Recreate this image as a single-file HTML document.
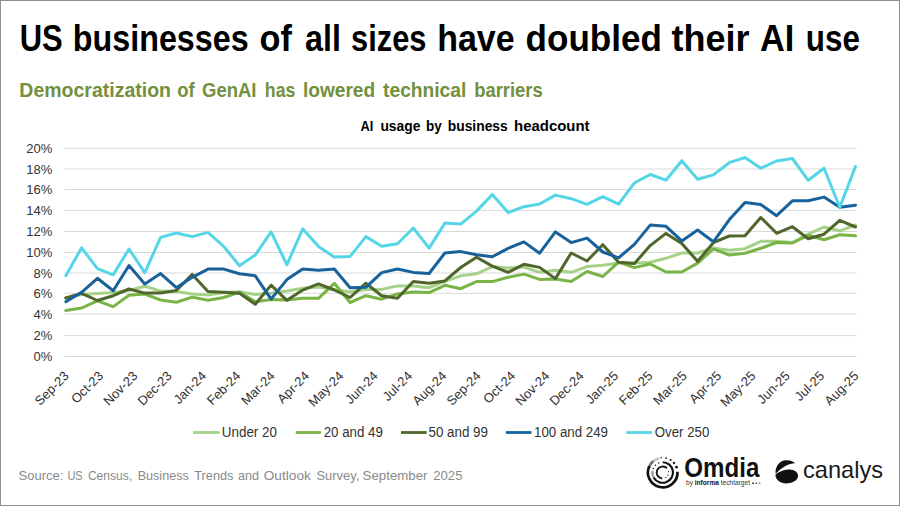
<!DOCTYPE html>
<html><head><meta charset="utf-8">
<style>
html,body{margin:0;padding:0;background:#fff;}
body{width:900px;height:506px;overflow:hidden;position:relative;}
svg{position:absolute;left:0;top:0;display:block;}
text{font-family:"Liberation Sans",sans-serif;}
</style></head>
<body>
<svg width="900" height="506" viewBox="0 0 900 506">
<rect x="0" y="0" width="900" height="506" fill="#fff"/>
<rect x="0.5" y="0.5" width="899" height="505" fill="none" stroke="#8f8f8f" stroke-width="1"/>
<text x="19.67" y="51.3" font-size="37.5" font-weight="bold" fill="#000" textLength="43.03" lengthAdjust="spacingAndGlyphs">US</text><text x="72.78" y="51.3" font-size="37.5" font-weight="bold" fill="#000" textLength="175.97" lengthAdjust="spacingAndGlyphs">businesses</text><text x="259.59" y="51.3" font-size="37.5" font-weight="bold" fill="#000" textLength="32.37" lengthAdjust="spacingAndGlyphs">of</text><text x="305.0" y="51.3" font-size="37.5" font-weight="bold" fill="#000" textLength="35.86" lengthAdjust="spacingAndGlyphs">all</text><text x="351.08" y="51.3" font-size="37.5" font-weight="bold" fill="#000" textLength="75.34" lengthAdjust="spacingAndGlyphs">sizes</text><text x="437.19" y="51.3" font-size="37.5" font-weight="bold" fill="#000" textLength="77.35" lengthAdjust="spacingAndGlyphs">have</text><text x="525.56" y="51.3" font-size="37.5" font-weight="bold" fill="#000" textLength="136.43" lengthAdjust="spacingAndGlyphs">doubled</text><text x="671.5" y="51.3" font-size="37.5" font-weight="bold" fill="#000" textLength="78.0" lengthAdjust="spacingAndGlyphs">their</text><text x="759.99" y="51.3" font-size="37.5" font-weight="bold" fill="#000" textLength="34.29" lengthAdjust="spacingAndGlyphs">AI</text><text x="805.86" y="51.3" font-size="37.5" font-weight="bold" fill="#000" textLength="54.06" lengthAdjust="spacingAndGlyphs">use</text>
<text x="19.3" y="97" font-size="20.1" font-weight="bold" fill="#73903c" textLength="151.72" lengthAdjust="spacingAndGlyphs">Democratization</text><text x="177.3" y="97" font-size="20.1" font-weight="bold" fill="#73903c" textLength="17.45" lengthAdjust="spacingAndGlyphs">of</text><text x="202.0" y="97" font-size="20.1" font-weight="bold" fill="#73903c" textLength="54.47" lengthAdjust="spacingAndGlyphs">GenAI</text><text x="264.8" y="97" font-size="20.1" font-weight="bold" fill="#73903c" textLength="30.55" lengthAdjust="spacingAndGlyphs">has</text><text x="302.9" y="97" font-size="20.1" font-weight="bold" fill="#73903c" textLength="72.24" lengthAdjust="spacingAndGlyphs">lowered</text><text x="383.1" y="97" font-size="20.1" font-weight="bold" fill="#73903c" textLength="83.2" lengthAdjust="spacingAndGlyphs">technical</text><text x="474.2" y="97" font-size="20.1" font-weight="bold" fill="#73903c" textLength="68.46" lengthAdjust="spacingAndGlyphs">barriers</text>
<text x="360.4" y="130.5" font-size="14.4" font-weight="bold" fill="#000" textLength="12.87" lengthAdjust="spacingAndGlyphs">AI</text><text x="380.4" y="130.5" font-size="14.4" font-weight="bold" fill="#000" textLength="40.11" lengthAdjust="spacingAndGlyphs">usage</text><text x="426.0" y="130.5" font-size="14.4" font-weight="bold" fill="#000" textLength="15.81" lengthAdjust="spacingAndGlyphs">by</text><text x="447.8" y="130.5" font-size="14.4" font-weight="bold" fill="#000" textLength="59.91" lengthAdjust="spacingAndGlyphs">business</text><text x="514.0" y="130.5" font-size="14.4" font-weight="bold" fill="#000" textLength="75.56" lengthAdjust="spacingAndGlyphs">headcount</text>
<g stroke="#d9d9d9" stroke-width="1"><line x1="64.5" y1="356.5" x2="856.5" y2="356.5"/><line x1="64.5" y1="335.6" x2="856.5" y2="335.6"/><line x1="64.5" y1="314.0" x2="856.5" y2="314.0"/><line x1="64.5" y1="293.3" x2="856.5" y2="293.3"/><line x1="64.5" y1="273.0" x2="856.5" y2="273.0"/><line x1="64.5" y1="252.5" x2="856.5" y2="252.5"/><line x1="64.5" y1="231.5" x2="856.5" y2="231.5"/><line x1="64.5" y1="210.4" x2="856.5" y2="210.4"/><line x1="64.5" y1="189.5" x2="856.5" y2="189.5"/><line x1="64.5" y1="169.0" x2="856.5" y2="169.0"/><line x1="64.5" y1="148.4" x2="856.5" y2="148.4"/></g>
<g font-size="13" fill="#333"><text x="52.3" y="361.1" text-anchor="end">0%</text><text x="52.3" y="340.2" text-anchor="end">2%</text><text x="52.3" y="318.6" text-anchor="end">4%</text><text x="52.3" y="297.9" text-anchor="end">6%</text><text x="52.3" y="277.6" text-anchor="end">8%</text><text x="52.3" y="257.1" text-anchor="end">10%</text><text x="52.3" y="236.1" text-anchor="end">12%</text><text x="52.3" y="215.0" text-anchor="end">14%</text><text x="52.3" y="194.1" text-anchor="end">16%</text><text x="52.3" y="173.6" text-anchor="end">18%</text><text x="52.3" y="153.0" text-anchor="end">20%</text></g>
<g font-size="13" fill="#333"><text transform="translate(63.0,370.0) rotate(-45)" x="0" y="9.5" text-anchor="end">Sep-23</text><text transform="translate(97.3,370.0) rotate(-45)" x="0" y="9.5" text-anchor="end">Oct-23</text><text transform="translate(131.7,370.0) rotate(-45)" x="0" y="9.5" text-anchor="end">Nov-23</text><text transform="translate(166.0,370.0) rotate(-45)" x="0" y="9.5" text-anchor="end">Dec-23</text><text transform="translate(200.3,370.0) rotate(-45)" x="0" y="9.5" text-anchor="end">Jan-24</text><text transform="translate(234.7,370.0) rotate(-45)" x="0" y="9.5" text-anchor="end">Feb-24</text><text transform="translate(269.0,370.0) rotate(-45)" x="0" y="9.5" text-anchor="end">Mar-24</text><text transform="translate(303.3,370.0) rotate(-45)" x="0" y="9.5" text-anchor="end">Apr-24</text><text transform="translate(337.7,370.0) rotate(-45)" x="0" y="9.5" text-anchor="end">May-24</text><text transform="translate(372.0,370.0) rotate(-45)" x="0" y="9.5" text-anchor="end">Jun-24</text><text transform="translate(406.3,370.0) rotate(-45)" x="0" y="9.5" text-anchor="end">Jul-24</text><text transform="translate(440.7,370.0) rotate(-45)" x="0" y="9.5" text-anchor="end">Aug-24</text><text transform="translate(475.0,370.0) rotate(-45)" x="0" y="9.5" text-anchor="end">Sep-24</text><text transform="translate(509.4,370.0) rotate(-45)" x="0" y="9.5" text-anchor="end">Oct-24</text><text transform="translate(543.7,370.0) rotate(-45)" x="0" y="9.5" text-anchor="end">Nov-24</text><text transform="translate(578.0,370.0) rotate(-45)" x="0" y="9.5" text-anchor="end">Dec-24</text><text transform="translate(612.4,370.0) rotate(-45)" x="0" y="9.5" text-anchor="end">Jan-25</text><text transform="translate(646.7,370.0) rotate(-45)" x="0" y="9.5" text-anchor="end">Feb-25</text><text transform="translate(681.0,370.0) rotate(-45)" x="0" y="9.5" text-anchor="end">Mar-25</text><text transform="translate(715.4,370.0) rotate(-45)" x="0" y="9.5" text-anchor="end">Apr-25</text><text transform="translate(749.7,370.0) rotate(-45)" x="0" y="9.5" text-anchor="end">May-25</text><text transform="translate(784.0,370.0) rotate(-45)" x="0" y="9.5" text-anchor="end">Jun-25</text><text transform="translate(818.4,370.0) rotate(-45)" x="0" y="9.5" text-anchor="end">Jul-25</text><text transform="translate(852.7,370.0) rotate(-45)" x="0" y="9.5" text-anchor="end">Aug-25</text></g>
<g fill="none" stroke-width="3" stroke-linejoin="round" stroke-linecap="round">
<polyline points="65.8,298.0 81.6,294.5 97.4,293.4 113.2,292.6 129.0,290.4 144.8,286.2 160.6,291.1 176.4,291.4 192.2,294.1 208.0,295.1 223.8,292.5 239.5,291.7 255.3,294.4 271.1,293.3 286.9,291.1 302.7,288.3 318.5,287.0 334.3,289.4 350.1,292.1 365.9,289.4 381.7,289.4 397.5,285.9 413.3,285.9 429.1,287.7 444.9,281.3 460.7,275.8 476.5,273.8 492.3,266.6 508.1,268.0 523.9,267.0 539.6,272.3 555.4,270.2 571.2,272.3 587.0,266.6 602.8,265.2 618.6,263.1 634.4,263.0 650.2,262.2 666.0,258.3 681.8,253.0 697.6,253.0 713.4,248.0 729.2,250.3 745.0,248.7 760.8,241.3 776.6,241.3 792.4,242.5 808.2,234.2 824.0,227.0 839.8,230.8 855.5,225.0" stroke="#a6d288"/>
<polyline points="65.8,310.5 81.6,308.0 97.4,300.8 113.2,306.6 129.0,295.3 144.8,294.0 160.6,300.0 176.4,302.2 192.2,297.1 208.0,300.3 223.8,297.5 239.5,292.2 255.3,301.7 271.1,299.4 286.9,300.0 302.7,298.3 318.5,298.3 334.3,283.3 350.1,302.5 365.9,295.7 381.7,299.2 397.5,293.9 413.3,292.1 429.1,292.6 444.9,285.3 460.7,288.7 476.5,281.6 492.3,281.6 508.1,277.3 523.9,274.1 539.6,279.4 555.4,279.1 571.2,281.6 587.0,271.5 602.8,276.5 618.6,262.2 634.4,267.6 650.2,264.0 666.0,272.0 681.8,272.0 697.6,263.1 713.4,248.9 729.2,255.0 745.0,253.3 760.8,248.3 776.6,242.5 792.4,243.0 808.2,235.3 824.0,239.7 839.8,234.7 855.5,235.8" stroke="#78b446"/>
<polyline points="65.8,298.0 81.6,293.4 97.4,300.5 113.2,295.7 129.0,289.0 144.8,293.1 160.6,293.0 176.4,290.5 192.2,274.4 208.0,291.6 223.8,292.2 239.5,293.3 255.3,304.2 271.1,285.1 286.9,300.3 302.7,290.1 318.5,283.9 334.3,290.0 350.1,297.5 365.9,283.2 381.7,295.7 397.5,298.3 413.3,281.4 429.1,283.2 444.9,280.9 460.7,267.5 476.5,257.2 492.3,266.1 508.1,272.3 523.9,264.3 539.6,267.4 555.4,278.6 571.2,253.0 587.0,261.0 602.8,244.7 618.6,262.2 634.4,263.6 650.2,245.6 666.0,233.4 681.8,243.6 697.6,261.3 713.4,242.7 729.2,236.0 745.0,235.8 760.8,217.5 776.6,233.3 792.4,226.7 808.2,238.7 824.0,234.2 839.8,220.3 855.5,227.0" stroke="#4f672b"/>
<polyline points="65.8,301.8 81.6,292.3 97.4,278.3 113.2,290.8 129.0,265.5 144.8,284.0 160.6,273.6 176.4,287.7 192.2,277.3 208.0,269.1 223.8,269.1 239.5,273.8 255.3,275.8 271.1,299.1 286.9,279.6 302.7,269.1 318.5,270.3 334.3,269.0 350.1,287.8 365.9,287.3 381.7,272.6 397.5,269.0 413.3,272.4 429.1,273.5 444.9,253.0 460.7,251.6 476.5,254.7 492.3,256.8 508.1,248.4 523.9,241.9 539.6,253.2 555.4,231.9 571.2,242.6 587.0,238.1 602.8,252.0 618.6,257.8 634.4,244.4 650.2,225.1 666.0,226.3 681.8,240.9 697.6,230.0 713.4,241.8 729.2,219.8 745.0,202.5 760.8,204.5 776.6,215.7 792.4,200.8 808.2,200.8 824.0,197.1 839.8,207.2 855.5,205.2" stroke="#18629c"/>
<polyline points="65.8,275.7 81.6,247.8 97.4,268.6 113.2,274.8 129.0,249.0 144.8,272.6 160.6,237.4 176.4,233.0 192.2,236.6 208.0,232.4 223.8,246.5 239.5,265.7 255.3,255.0 271.1,231.9 286.9,264.8 302.7,228.8 318.5,246.6 334.3,257.1 350.1,256.4 365.9,236.6 381.7,246.3 397.5,243.7 413.3,228.0 429.1,248.1 444.9,223.1 460.7,224.1 476.5,211.1 492.3,194.6 508.1,212.5 523.9,206.7 539.6,204.0 555.4,195.1 571.2,198.7 587.0,204.4 602.8,196.7 618.6,204.2 634.4,182.9 650.2,174.5 666.0,180.2 681.8,160.7 697.6,179.3 713.4,174.9 729.2,162.7 745.0,157.5 760.8,168.2 776.6,161.0 792.4,158.5 808.2,180.3 824.0,168.2 839.8,207.2 855.5,166.5" stroke="#55d6e6"/>
</g>
<g font-size="14" fill="#333"><line x1="193" y1="432.5" x2="219.7" y2="432.5" stroke="#a6d288" stroke-width="2.8"/><text x="221.8" y="436.7" textLength="55.2" lengthAdjust="spacingAndGlyphs">Under 20</text><line x1="295.7" y1="432.5" x2="321" y2="432.5" stroke="#78b446" stroke-width="2.8"/><text x="323.7" y="436.7" textLength="59.2" lengthAdjust="spacingAndGlyphs">20 and 49</text><line x1="401" y1="432.5" x2="426.7" y2="432.5" stroke="#4f672b" stroke-width="2.8"/><text x="428.5" y="436.7" textLength="59.5" lengthAdjust="spacingAndGlyphs">50 and 99</text><line x1="505.9" y1="432.5" x2="531.5" y2="432.5" stroke="#18629c" stroke-width="2.8"/><text x="534" y="436.7" textLength="74.0" lengthAdjust="spacingAndGlyphs">100 and 249</text><line x1="626.4" y1="432.5" x2="652" y2="432.5" stroke="#55d6e6" stroke-width="2.8"/><text x="654.7" y="436.7" textLength="54.6" lengthAdjust="spacingAndGlyphs">Over 250</text></g>
<text x="18.6" y="480.2" font-size="13" font-weight="normal" fill="#8a8a8a" textLength="44.81" lengthAdjust="spacingAndGlyphs">Source:</text><text x="67.4" y="480.2" font-size="13" font-weight="normal" fill="#8a8a8a" textLength="15.25" lengthAdjust="spacingAndGlyphs">US</text><text x="87.9" y="480.2" font-size="13" font-weight="normal" fill="#8a8a8a" textLength="44.15" lengthAdjust="spacingAndGlyphs">Census,</text><text x="137.7" y="480.2" font-size="13" font-weight="normal" fill="#8a8a8a" textLength="51.06" lengthAdjust="spacingAndGlyphs">Business</text><text x="194.3" y="480.2" font-size="13" font-weight="normal" fill="#8a8a8a" textLength="39.08" lengthAdjust="spacingAndGlyphs">Trends</text><text x="237.9" y="480.2" font-size="13" font-weight="normal" fill="#8a8a8a" textLength="21.01" lengthAdjust="spacingAndGlyphs">and</text><text x="263.7" y="480.2" font-size="13" font-weight="normal" fill="#8a8a8a" textLength="47.2" lengthAdjust="spacingAndGlyphs">Outlook</text><text x="316.5" y="480.2" font-size="13" font-weight="normal" fill="#8a8a8a" textLength="42.71" lengthAdjust="spacingAndGlyphs">Survey,</text><text x="362.6" y="480.2" font-size="13" font-weight="normal" fill="#8a8a8a" textLength="64.89" lengthAdjust="spacingAndGlyphs">September</text><text x="433.2" y="480.2" font-size="13" font-weight="normal" fill="#8a8a8a" textLength="29.32" lengthAdjust="spacingAndGlyphs">2025</text>
<!-- Omdia logo -->
<defs>
<linearGradient id="fadeO" x1="0" y1="1" x2="0.6" y2="0">
<stop offset="0" stop-color="#111"/><stop offset="0.55" stop-color="#111"/><stop offset="1" stop-color="#111" stop-opacity="0"/>
</linearGradient>
</defs>
<g transform="translate(662.7,472.5)" fill="none" stroke="#111">
 <path d="M 14.78 -0.77 A 14.8 14.8 0 1 1 -13.41 -6.25" stroke-width="2.7" /><path d="M -13.91 -5.06 A 14.8 14.8 0 0 1 -9.51 -11.34" stroke-width="2.7" stroke-opacity="0.6"/><path d="M -9.90 -11.00 A 14.8 14.8 0 0 1 -3.83 -14.30" stroke-width="2.7" stroke-opacity="0.25"/>
 <path d="M 0.00 -10.30 A 10.3 10.3 0 1 1 -8.92 5.15" stroke-width="2.1" /><path d="M -8.44 5.91 A 10.3 10.3 0 0 1 -10.14 -1.79" stroke-width="2.1" stroke-opacity="0.45"/>
 <path d="M 4.24 -4.24 A 6.0 6.0 0 1 0 -0.52 5.98" stroke-width="1.9" />
 <g fill="#111" stroke="none"><circle cx="-1.55" cy="-14.72" r="0.75"/><circle cx="3.33" cy="-14.42" r="0.9"/><circle cx="7.84" cy="-12.55" r="1.0"/><circle cx="11.34" cy="-9.51" r="1.15"/><circle cx="13.82" cy="-5.30" r="1.35"/><circle cx="-9.48" cy="-4.02" r="0.75"/><circle cx="-7.28" cy="-7.28" r="0.75"/><circle cx="-4.02" cy="-9.48" r="0.75"/><circle cx="5.74" cy="-0.81" r="0.6"/><circle cx="5.17" cy="2.63" r="0.6"/><circle cx="3.16" cy="4.86" r="0.6"/></g>
</g>
<text x="684.3" y="476.6" font-size="27" font-weight="bold" fill="#111" textLength="75" lengthAdjust="spacingAndGlyphs">Omdia</text>
<text x="686" y="485.3" font-size="8" fill="#333" textLength="64" lengthAdjust="spacingAndGlyphs">by <tspan font-weight="bold" fill="#111">informa</tspan> techtarget</text>
<g fill="#222"><circle cx="753" cy="483.2" r="0.9"/><circle cx="756.3" cy="483.2" r="0.9" fill="#666"/><circle cx="759.6" cy="483.2" r="0.9" fill="#888"/></g>
<!-- canalys logo -->
<g transform="translate(772,457) scale(0.05928)" fill="#111">
 <path d="M 62 282 C 50 190, 100 90, 200 60 C 270 45, 350 60, 388 105 C 290 105, 170 170, 62 282 Z"/>
 <path d="M 68 288 C 130 235, 220 208, 300 210 C 390 212, 445 270, 440 320 C 435 400, 330 445, 240 445 C 140 445, 60 390, 58 300 Z"/>
</g>
<text x="803" y="478" font-size="24" fill="#1a1a1a" textLength="80" lengthAdjust="spacingAndGlyphs">canalys</text>
</svg>
</body></html>
